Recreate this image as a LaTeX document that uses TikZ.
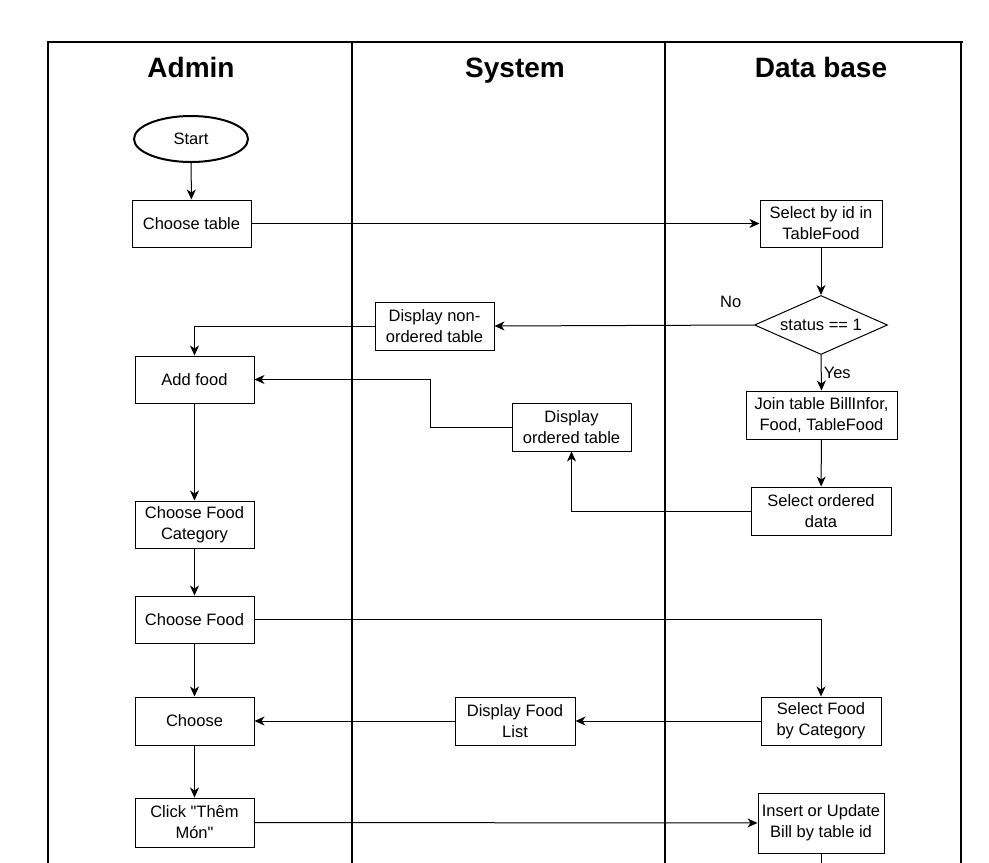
\documentclass[tikz,border=0pt]{standalone}
\usepackage{fontspec}
\setmainfont{Liberation Sans}[Ligatures=TeXOff]
\usetikzlibrary{shapes.geometric, arrows.meta, positioning}
\newcommand{\nodefont}{\fontsize{16.5}{21}\selectfont}
\newcommand{\titlefont}{\fontsize{28}{32}\selectfont\bfseries}
\tikzset{
  procbox/.style={
    rectangle, draw=black, line width=1pt, fill=white, align=center, font=\nodefont,
    inner sep=2pt, minimum width=119pt, minimum height=47pt
  },
  startbox/.style={ellipse, draw=black, line width=2pt, fill=white, font=\nodefont, minimum width=114pt, minimum height=46pt},
  decisionbox/.style={diamond, aspect=2.25, draw=black, line width=1pt, fill=white, font=\nodefont,
    inner sep=1pt, minimum width=133pt, minimum height=59pt},
  lanetitle/.style={font=\titlefont, anchor=base},
  labeltext/.style={font=\nodefont, inner sep=2pt},
  flowarrow/.style={-{Stealth[length=10pt,width=9pt,inset=3pt]}, line width=1pt},
  laneline/.style={line width=2pt}
}

\begin{document}
\begin{tikzpicture}[x=1pt, y=-1pt]
  \useasboundingbox (0,0) rectangle (989,863);

  % swimlanes
  \draw[laneline, line width=2.5pt] (47,42) -- (963,42);
  \foreach \lx in {48,352,665,961}
    \draw[laneline] (\lx,42) -- (\lx,863);
  \node[lanetitle] (admintitle)  at (191,77) {Admin};
  \node[lanetitle] (systemtitle) at (515,77) {System};
  \node[lanetitle] (dbtitle)     at (821,77) {Data base};

  % Admin lane
  \node[startbox] (start) at (191,139) {Start};
  \node[procbox] (choosetable) at (191.5,223.5) {Choose table};
  \node[procbox] (addfood) at (194.5,379.5) {Add food};
  \node[procbox] (category) at (194.5,524.5) {Choose Food\\Category};
  \node[procbox] (choosefood) at (194.5,619.5) {Choose Food};
  \node[procbox, minimum height=48pt] (choose) at (194.5,721) {Choose};
  \node[procbox, minimum height=49pt] (click) at (194.5,822.5) {Click "Thêm\\Món"};

  % System lane
  \node[procbox, minimum height=48pt] (nonordered) at (434.5,326) {Display non-\\ordered table};
  \node[procbox, minimum height=48pt] (ordered) at (571.5,427) {Display\\ordered table};
  \node[procbox, minimum width=120pt, minimum height=48pt] (foodlist) at (515,721) {Display Food\\List};

  % Data base lane
  \node[procbox, minimum width=122pt] (selectid) at (821,223.5) {Select by id in\\TableFood};
  \node[decisionbox] (status) at (821,325) {status == 1};
  \node[procbox, minimum width=151pt, minimum height=48pt] (jointable) at (821.5,415) {Join table BillInfor,\\Food, TableFood};
  \node[procbox, minimum width=140pt, minimum height=48pt] (selectordered) at (821,511) {Select ordered\\data};
  \node[procbox, minimum width=120pt, minimum height=48pt] (selectfood) at (821,721) {Select Food\\by Category};
  \node[procbox, minimum width=126pt, minimum height=60pt] (insertbill) at (821,823) {Insert or Update\\Bill by table id};
  \coordinate (billout) at (821,863);

  % connectors
  \draw[flowarrow] (start) -- (choosetable);
  \draw[flowarrow] (choosetable) -- (selectid);
  \draw[flowarrow] (selectid) -- (status);
  \draw[flowarrow] (status.west) -- node[labeltext, pos=0.09, yshift=23pt] {No} (nonordered.east);
  \draw[flowarrow] (nonordered.west) -| (addfood.north);
  \draw[flowarrow] (status.south) -- node[labeltext, right] {Yes} (jointable.north);
  \draw[flowarrow] (jointable) -- (selectordered);
  \draw[flowarrow] (selectordered.west) -| (ordered.south);
  \draw[flowarrow] (ordered.west) -- ++(-81,0) |- (addfood.east);
  \draw[flowarrow] (addfood) -- (category);
  \draw[flowarrow] (category) -- (choosefood);
  \draw[flowarrow] (choosefood) -- (choose);
  \draw[flowarrow] (choosefood.east) -| (selectfood.north);
  \draw[flowarrow] (selectfood) -- (foodlist);
  \draw[flowarrow] (foodlist) -- (choose);
  \draw[flowarrow] (choose) -- (click);
  \draw[flowarrow] (click) -- (insertbill);
  \draw[line width=1pt] (insertbill) -- (billout);
\end{tikzpicture}
\end{document}
